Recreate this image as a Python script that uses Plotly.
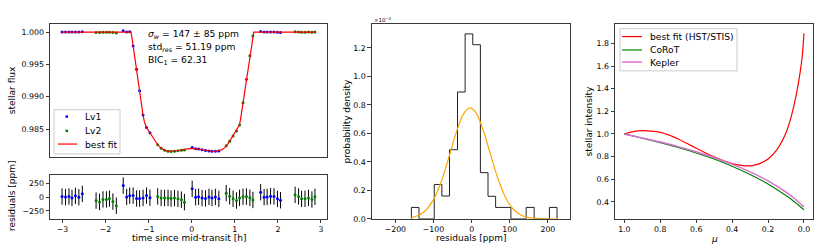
import plotly.graph_objects as go

W, H = 830, 249
FONT = "DejaVu Sans"


def px(x):
    return x / W


def py(y):
    return 1 - y / H


# ---------------- data: light curve (hours since mid-transit) ----------------
lv1_time = [-3.01, -2.93, -2.85, -2.78, -2.70, -2.62, -2.54,
            -1.59, -1.51, -1.44, -1.36, -1.28, -1.21, -1.13, -1.05, -0.97,
            0.01, 0.09, 0.16, 0.24, 0.32, 0.40, 0.47, 0.55, 0.63,
            1.60, 1.68, 1.75, 1.83, 1.91, 1.99, 2.06]
lv1_flux = [1.000012, 1.000002, 1.000014, 0.999988, 1.000026, 1.000000, 1.000062,
            1.000214, 1.000005, 1.000028, 0.99784, 0.994258, 0.990925, 0.987188, 0.98523, 0.984422,
            0.982133, 0.98197, 0.981928, 0.981815, 0.981688, 0.981626, 0.981566, 0.981575, 0.98160,
            1.000093, 1.000001, 1.000006, 1.000018, 1.000015, 0.999970, 0.999945]
lv1_resid = [12, 2, 14, -12, 26, 0, 62,
             214, 5, 28, 30, -22, -25, -12, 30, -8,
             153, 0, 8, -15, -22, 6, -14, 5, -30,
             93, 1, 6, 18, 15, -30, -55]

lv2_time = [-2.22, -2.14, -2.06, -1.98, -1.91, -1.83, -1.75,
            -0.79, -0.71, -0.63, -0.55, -0.48, -0.40, -0.32, -0.24, -0.17,
            0.80, 0.88, 0.96, 1.04, 1.11, 1.19, 1.27, 1.35, 1.42,
            2.40, 2.48, 2.55, 2.63, 2.71, 2.79, 2.86]
lv2_flux = [0.999938, 0.999915, 0.999960, 0.999960, 0.999975, 0.999920, 0.999845,
            0.982585, 0.982028, 0.981715, 0.981586, 0.981545, 0.981575, 0.98163, 0.981725, 0.98178,
            0.982425, 0.983128, 0.983922, 0.98471, 0.985638, 0.98905, 0.992692, 0.99635, 0.9994,
            1.000045, 1.000015, 0.999970, 0.999972, 0.999988, 0.999958, 1.000008]
lv2_resid = [-62, -85, -40, -40, -25, -80, -155,
             15, -12, -15, -14, -25, -15, -30, -45, -90,
             75, 18, -28, -60, -12, 10, 12, -10, -50,
             45, 15, -30, -28, -12, -42, 8]

err_ppm = 150

model_time = [-3.01, -1.41, -1.39, -1.365, -1.287, -1.209, -1.132, -1.10, -1.077, -1.05,
              -0.977, -0.90, -0.85, -0.783, -0.70, -0.65, -0.589, -0.50, -0.42, -0.356,
              -0.30, -0.25, -0.18, -0.12, -0.06, 0.02, 0.10, 0.16, 0.22, 0.29,
              0.34, 0.40, 0.47, 0.55, 0.63, 0.69, 0.74, 0.80, 0.86, 0.94,
              1.02, 1.08, 1.11, 1.14, 1.19, 1.27, 1.35, 1.40, 1.42, 1.44, 2.86]
model_flux = [1.0, 1.0, 0.99925, 0.99803, 0.99461, 0.99090, 0.98727, 0.98615, 0.98555, 0.98520,
              0.98450, 0.98370, 0.98318, 0.98250, 0.98198, 0.98178, 0.98163, 0.98157, 0.98158, 0.98162,
              0.98168, 0.98176, 0.98186, 0.98192, 0.98196, 0.98198, 0.98196, 0.98192, 0.98186, 0.98176,
              0.98168, 0.98162, 0.98158, 0.98157, 0.98163, 0.98178, 0.98198, 0.98235, 0.98290, 0.98375,
              0.98455, 0.98520, 0.98565, 0.98680, 0.98904, 0.99268, 0.99636, 0.99860, 0.99945, 1.0, 1.0]

# ---------------- data: residual histogram ----------------
hist_edges = [-158, -138, -118, -98, -78, -58, -37, -17, 3, 23,
              43, 63, 83, 103, 123, 143, 164, 184, 204, 224]
hist_density = [0.00080, 0, 0, 0.00241, 0.00160, 0.00485, 0.00890, 0.01298, 0.01222,
                0.00324, 0.00158, 0.00080, 0.00080, 0, 0, 0.00080, 0, 0, 0.00080]

gauss_x = [-158, -140, -120, -100, -80, -60, -40, -20, -4, 10,
           30, 50, 70, 90, 110, 130, 150, 170, 190, 224]
gauss_y = [0.0000845, 0.0002286, 0.0005983, 0.001344, 0.002589, 0.004284, 0.006086, 0.007421,
           0.007793, 0.007507, 0.006250, 0.004468, 0.002741, 0.001443, 0.000652, 0.000253,
           0.0000845, 0.0000241, 0.0000059, 0.0000004]

# ---------------- data: limb-darkening profiles ----------------
mu = [1.0, 0.95, 0.9, 0.85, 0.8, 0.75, 0.7, 0.65, 0.6, 0.55, 0.5, 0.45,
      0.4, 0.35, 0.3, 0.25, 0.2, 0.15, 0.1, 0.07, 0.04, 0.02, 0.01, 0.0]
ld_best = [1.000, 1.020, 1.029, 1.025, 1.014, 0.990, 0.955, 0.915, 0.874, 0.834, 0.797, 0.764,
           0.738, 0.722, 0.718, 0.735, 0.778, 0.862, 1.010, 1.160, 1.370, 1.560, 1.680, 1.890]
mu_ref = [1.0, 0.9, 0.8, 0.7, 0.6, 0.5, 0.4, 0.3, 0.2, 0.1, 0.05, 0.0]
ld_corot = [1.000, 0.962, 0.923, 0.880, 0.832, 0.778, 0.715, 0.642, 0.558, 0.455, 0.397, 0.330]
ld_kepler = [1.000, 0.965, 0.928, 0.888, 0.843, 0.792, 0.733, 0.665, 0.585, 0.485, 0.425, 0.355]

# ---------------- figure ----------------
fig = go.Figure()

fig.add_trace(go.Scatter(x=lv1_time, y=lv1_flux, mode="markers", name="Lv1",
                         marker=dict(color="#0000ff", size=3), xaxis="x", yaxis="y"))
fig.add_trace(go.Scatter(x=lv2_time, y=lv2_flux, mode="markers", name="Lv2",
                         marker=dict(color="#008000", size=3), xaxis="x", yaxis="y"))
fig.add_trace(go.Scatter(x=model_time, y=model_flux, mode="lines", name="best fit",
                         line=dict(color="#ff0000", width=1.2), xaxis="x", yaxis="y"))

for t, r, c in ((lv1_time, lv1_resid, "#0000ff"), (lv2_time, lv2_resid, "#008000")):
    fig.add_trace(go.Scatter(x=t, y=r, mode="markers", marker=dict(color=c, size=3),
                             error_y=dict(type="constant", value=err_ppm, color="black",
                                          thickness=1, width=0),
                             xaxis="x2", yaxis="y2"))

# step outline of the histogram
step_x = [hist_edges[0]]
step_y = [0]
for i, d in enumerate(hist_density):
    step_x += [hist_edges[i], hist_edges[i + 1]]
    step_y += [d, d]
step_x.append(hist_edges[-1])
step_y.append(0)
fig.add_trace(go.Scatter(x=step_x, y=step_y, mode="lines", line=dict(color="#222222", width=1),
                         xaxis="x3", yaxis="y3"))
fig.add_trace(go.Scatter(x=gauss_x, y=gauss_y, mode="lines", line=dict(color="#ffa500", width=1.2, shape="spline"),
                         xaxis="x3", yaxis="y3"))

fig.add_trace(go.Scatter(x=mu, y=ld_best, mode="lines", line=dict(color="#ff0000", width=1.2, shape="spline", smoothing=0.8),
                         xaxis="x4", yaxis="y4"))
fig.add_trace(go.Scatter(x=mu_ref, y=ld_corot, mode="lines", line=dict(color="#008000", width=1.2, shape="spline"),
                         xaxis="x4", yaxis="y4"))
fig.add_trace(go.Scatter(x=mu_ref, y=ld_kepler, mode="lines", line=dict(color="orchid", width=1.5, shape="spline"),
                         xaxis="x4", yaxis="y4"))

axis_common = dict(showline=True, mirror=True, linecolor="#3a3a3a", linewidth=1,
                   ticks="outside", ticklen=3.5, tickwidth=1, tickcolor="#3a3a3a",
                   showgrid=False, zeroline=False,
                   tickfont=dict(size=7.8, color="black", family=FONT))
xaxis_common = dict(axis_common, ticklabelstandoff=-1)

d1x = [px(50), px(327)]
fig.update_layout(
    xaxis=dict(domain=d1x, range=[-3.29, 3.14], anchor="y", showticklabels=False, **{**axis_common, "ticks": ""}),
    yaxis=dict(domain=[py(160), py(25)], range=[0.980712, 1.001167], anchor="x",
               tickvals=[0.985, 0.990, 0.995, 1.000], tickformat=".3f", **axis_common),
    xaxis2=dict(domain=d1x, range=[-3.29, 3.14], anchor="y2", tickvals=[-3, -2, -1, 0, 1, 2, 3], **xaxis_common),
    yaxis2=dict(domain=[py(223.3), py(178.3)], range=[-395, 412], anchor="x2",
                tickvals=[-250, 0, 250], **axis_common),
    xaxis3=dict(domain=[px(371.7), px(570)], range=[-262, 258], anchor="y3",
                tickvals=[-200, -100, 0, 100, 200], **xaxis_common),
    yaxis3=dict(domain=[py(223.3), py(25)], range=[0, 0.01364], anchor="x3",
                tickvals=[0, 0.002, 0.004, 0.006, 0.008, 0.010, 0.012],
                ticktext=["0.0", "0.2", "0.4", "0.6", "0.8", "1.0", "1.2"], **axis_common),
    xaxis4=dict(domain=[px(615), px(813.3)], range=[1.052, -0.052], anchor="y4",
                tickvals=[1.0, 0.8, 0.6, 0.4, 0.2, 0.0], tickformat=".1f", **xaxis_common),
    yaxis4=dict(domain=[py(223.3), py(25)], range=[0.25, 1.967], anchor="x4",
                tickvals=[0.4, 0.6, 0.8, 1.0, 1.2, 1.4, 1.6, 1.8], tickformat=".1f", **axis_common),
    width=W, height=H, autosize=False,
    margin=dict(l=0, r=0, t=0, b=0),
    paper_bgcolor="white", plot_bgcolor="white",
    showlegend=False,
    font=dict(family=FONT, color="black"),
)

ann = []


def text(x, y, s, size=9.0, xanchor="center", yanchor="middle", angle=0):
    ann.append(dict(x=px(x), y=py(y), xref="paper", yref="paper", text=s, showarrow=False,
                    xanchor=xanchor, yanchor=yanchor, textangle=angle,
                    font=dict(size=size, family=FONT, color="black")))


# axis labels
text(12, 92, "stellar flux", angle=-90)
text(12, 200, "residuals [ppm]", angle=-90)
text(188.5, 243, "time since mid-transit [h]")
text(347, 124, "probability density", angle=-90)
text(471, 243, "residuals [ppm]")
text(714, 243.5, "<i>μ</i>")
text(589, 124, "stellar intensity", angle=-90)
text(372, 20, "×10<sup>−2</sup>", size=5.5, xanchor="left")

# fit statistics
text(146, 35, "<i>σ<sub>w</sub></i> = 147 ± 85 ppm", size=9.2, xanchor="left")
text(146, 48.5, "std<sub>res</sub> = 51.19 ppm", size=9.2, xanchor="left")
text(146, 62, "BIC<sub>1</sub> = 62.31", size=9.2, xanchor="left")

shapes = []
# legend panel 1
shapes.append(dict(type="rect", xref="paper", yref="paper", x0=px(54), x1=px(120), y0=py(157), y1=py(112),
                   line=dict(color="#cccccc", width=1), fillcolor="rgba(255,255,255,0.8)"))
for yy, c in ((119, "#0000ff"), (133.5, "#008000")):
    shapes.append(dict(type="rect", xref="paper", yref="paper", x0=px(65.5), x1=px(68), y0=py(yy + 1.25), y1=py(yy - 1.25),
                       line=dict(width=0), fillcolor=c))
shapes.append(dict(type="line", xref="paper", yref="paper", x0=px(58), x1=px(77), y0=py(147), y1=py(147),
                   line=dict(color="#ff0000", width=1.2)))
text(83, 119, "Lv1", size=9.2, xanchor="left")
text(83, 133.5, "Lv2", size=9.2, xanchor="left")
text(83, 147, "best fit", size=9.2, xanchor="left")

# legend panel 3
shapes.append(dict(type="rect", xref="paper", yref="paper", x0=px(620), x1=px(737), y0=py(72.3), y1=py(29.3),
                   line=dict(color="#cccccc", width=1), fillcolor="rgba(255,255,255,0.8)"))
for yy, c, w in ((37.3, "#ff0000", 1.2), (51, "#008000", 1.2), (63.3, "orchid", 1.5)):
    shapes.append(dict(type="line", xref="paper", yref="paper", x0=px(622), x1=px(642), y0=py(yy), y1=py(yy),
                       line=dict(color=c, width=w)))
text(648, 37.3, "best fit (HST/STIS)", size=9.2, xanchor="left")
text(648, 51, "CoRoT", size=9.2, xanchor="left")
text(648, 63.3, "Kepler", size=9.2, xanchor="left")

fig.update_layout(annotations=ann, shapes=shapes)
fig.write_html("out.html", config={"displayModeBar": False},
               post_script="document.body.style.margin='0px';document.body.style.overflow='hidden';")
